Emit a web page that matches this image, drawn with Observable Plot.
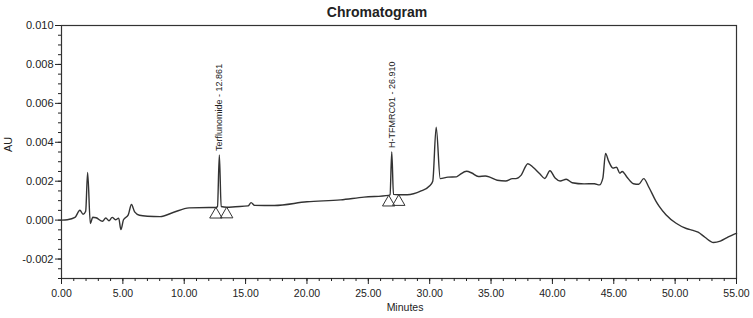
<!DOCTYPE html>
<html><head><meta charset="utf-8">
<script src="https://cdn.jsdelivr.net/npm/d3@7"></script>
<script src="https://cdn.jsdelivr.net/npm/@observablehq/plot@0.6"></script>
<style>html,body{margin:0;padding:0;background:#fff}</style>
</head><body><div id="chart"></div>
<script>
// Retention time (minutes)
const times = [0.00,0.47,1.10,1.50,1.76,1.97,2.13,2.35,2.55,2.82,3.34,3.61,3.87,4.13,4.40,4.66,4.84,5.05,5.44,5.70,5.96,6.35,7.00,8.04,9.09,10.40,12.00,12.58,12.71,12.861,13.01,13.46,14.17,15.20,15.45,15.73,17.34,20.00,22.74,24.65,26.66,26.77,26.91,27.05,27.48,28.17,29.30,29.98,30.25,30.53,30.86,31.49,32.18,32.46,33.01,33.43,33.97,34.53,34.94,35.50,36.19,36.75,37.03,37.44,38.00,38.42,38.97,39.38,39.80,40.22,40.63,41.13,41.61,42.58,43.42,43.83,44.11,44.33,44.58,44.94,45.22,45.50,45.69,46.05,46.61,47.03,47.44,47.86,48.42,48.69,49.25,50.08,50.91,51.46,51.87,52.43,53.12,53.68,54.23,54.78,55.00];
// Detector response (AU)
const absorbance = [0.00000,0.00002,0.00014,0.00051,0.00030,0.00046,0.00245,-0.00018,0.00015,0.00012,-0.00006,0.00011,-0.00003,0.00014,0.00002,0.00010,-0.00049,0.00002,0.00027,0.00080,0.00042,0.00025,0.00020,0.00018,0.00039,0.00063,0.00065,0.00065,0.00070,0.00335,0.00070,0.00066,0.00069,0.00073,0.00090,0.00076,0.00075,0.00094,0.00104,0.00118,0.00127,0.00130,0.00350,0.00132,0.00130,0.00130,0.00150,0.00175,0.00200,0.00478,0.00213,0.00221,0.00222,0.00234,0.00251,0.00242,0.00224,0.00227,0.00220,0.00205,0.00201,0.00213,0.00213,0.00230,0.00290,0.00272,0.00238,0.00214,0.00254,0.00216,0.00201,0.00210,0.00192,0.00186,0.00187,0.00181,0.00216,0.00343,0.00303,0.00267,0.00272,0.00241,0.00250,0.00223,0.00187,0.00184,0.00213,0.00169,0.00099,0.00072,0.00028,-0.00016,-0.00043,-0.00053,-0.00062,-0.00088,-0.00115,-0.00108,-0.00090,-0.00073,-0.00068];

const peakNames = ["Terflunomide", "H-TFMRC01"];
const peakTimes = [12.861, 26.910];
const peakHeights = [0.00335, 0.00350];
const markerTimes = [12.58, 13.46, 26.66, 27.48];
const markerLevels = [0.00065, 0.00066, 0.00127, 0.00130];

const xMajorTicks = [0, 5, 10, 15, 20, 25, 30, 35, 40, 45, 50, 55];
const xMinorTicks = d3.range(0, 56, 1);
const yMajorTicks = [-0.002, 0.000, 0.002, 0.004, 0.006, 0.008, 0.010];
const yMinorTicks = d3.range(-30, 101, 5).map(d => d / 10000);

const titleText = "Chromatogram";
const xLabel = "Minutes";
const yLabel = "AU";

const trace = times.map((t, i) => ({t, au: absorbance[i]}));
const peaks = peakNames.map((n, i) => ({t: peakTimes[i], au: peakHeights[i], label: `${n} - ${peakTimes[i].toFixed(3)}`}));
const markers = markerTimes.map((t, i) => ({t, au: markerLevels[i]}));

const chart = Plot.plot({
  width: 753, height: 318,
  marginLeft: 61, marginRight: 17, marginTop: 25, marginBottom: 40,
  style: {fontFamily: "'Liberation Sans', Arial, sans-serif", fontSize: "11px", color: "#222", background: "#fff"},
  x: {domain: [0, 55]},
  y: {domain: [-0.003, 0.010]},
  marks: [
    Plot.frame({stroke: "#333", strokeWidth: 1.2}),
    Plot.axisX({anchor: "bottom", ticks: xMinorTicks, tickSize: 3, tickFormat: () => "", label: null}),
    Plot.axisX({anchor: "bottom", ticks: xMajorTicks, tickSize: 6, tickPadding: 5, tickFormat: d => d.toFixed(2), label: null, fontSize: 10.5}),
    Plot.axisY({anchor: "left", ticks: yMinorTicks, tickSize: 3, tickFormat: () => "", label: null}),
    Plot.axisY({anchor: "left", ticks: yMajorTicks, tickSize: 6, tickPadding: 2, tickFormat: d => d.toFixed(3), label: null, fontSize: 11}),
    Plot.line(trace, {x: "t", y: "au", stroke: "#333", strokeWidth: 1.4, curve: "monotone-x"}),
    Plot.dot(markers, {x: "t", y: "au", symbol: "triangle", r: 4.6, dy: 7, stroke: "#333", fill: "none", strokeWidth: 1}),
    Plot.text(peaks, {x: "t", y: "au", text: "label", rotate: -90, textAnchor: "start", dy: -4, fontSize: 9, fill: "#222"}),
    Plot.text([titleText], {text: d => d, frameAnchor: "top", dy: -18, dx: -22, fontWeight: "bold", fontSize: 14, fill: "#222"}),
    Plot.text([xLabel], {text: d => d, frameAnchor: "bottom", dy: 32, dx: 6, fontSize: 10.5, fill: "#222"}),
    Plot.text([yLabel], {text: d => d, frameAnchor: "left", dx: -53, rotate: -90, fontSize: 11, fill: "#222"})
  ]
});
document.getElementById("chart").append(chart);
</script>
</body></html>
